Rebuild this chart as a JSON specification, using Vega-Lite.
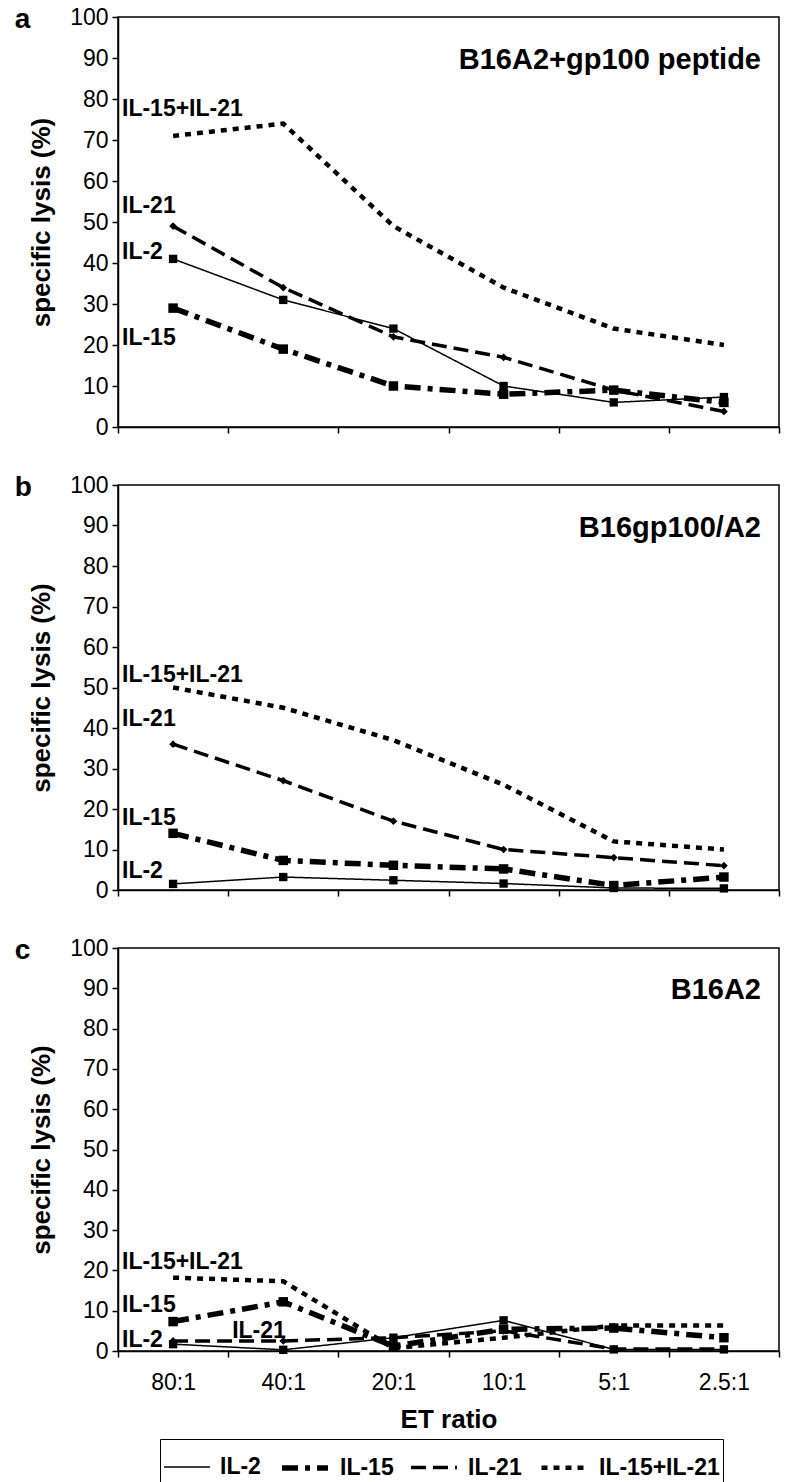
{
  "$schema": "https://vega.github.io/schema/vega-lite/v6.json",
  "autosize": {"type": "pad"},
  "padding": {"left": 13, "top": 5, "right": 5, "bottom": 4},
  "background": "white",
  "config": {
    "font": "Liberation Sans",
    "view": {"stroke": "black", "strokeWidth": 1.5},
    "axis": {"domainColor": "black", "domainWidth": 1.5, "tickColor": "black", "tickWidth": 1.5, "tickSize": 6, "labelColor": "black", "titleColor": "black", "grid": false, "labelFont": "Liberation Sans", "titleFont": "Liberation Sans"}
  },
  "datasets": {
    "series": [
      {"panel": "a", "ratio": "80:1", "series": "IL-2", "lysis": 41},
      {"panel": "a", "ratio": "40:1", "series": "IL-2", "lysis": 31},
      {"panel": "a", "ratio": "20:1", "series": "IL-2", "lysis": 24},
      {"panel": "a", "ratio": "10:1", "series": "IL-2", "lysis": 10},
      {"panel": "a", "ratio": "5:1", "series": "IL-2", "lysis": 6},
      {"panel": "a", "ratio": "2.5:1", "series": "IL-2", "lysis": 7.3},
      {"panel": "a", "ratio": "80:1", "series": "IL-15", "lysis": 29},
      {"panel": "a", "ratio": "40:1", "series": "IL-15", "lysis": 19},
      {"panel": "a", "ratio": "20:1", "series": "IL-15", "lysis": 10},
      {"panel": "a", "ratio": "10:1", "series": "IL-15", "lysis": 8},
      {"panel": "a", "ratio": "5:1", "series": "IL-15", "lysis": 9},
      {"panel": "a", "ratio": "2.5:1", "series": "IL-15", "lysis": 6},
      {"panel": "a", "ratio": "80:1", "series": "IL-21", "lysis": 49},
      {"panel": "a", "ratio": "40:1", "series": "IL-21", "lysis": 34},
      {"panel": "a", "ratio": "20:1", "series": "IL-21", "lysis": 22},
      {"panel": "a", "ratio": "10:1", "series": "IL-21", "lysis": 17},
      {"panel": "a", "ratio": "5:1", "series": "IL-21", "lysis": 9},
      {"panel": "a", "ratio": "2.5:1", "series": "IL-21", "lysis": 3.8},
      {"panel": "a", "ratio": "80:1", "series": "IL-15+IL-21", "lysis": 71},
      {"panel": "a", "ratio": "40:1", "series": "IL-15+IL-21", "lysis": 74},
      {"panel": "a", "ratio": "20:1", "series": "IL-15+IL-21", "lysis": 49},
      {"panel": "a", "ratio": "10:1", "series": "IL-15+IL-21", "lysis": 34},
      {"panel": "a", "ratio": "5:1", "series": "IL-15+IL-21", "lysis": 24},
      {"panel": "a", "ratio": "2.5:1", "series": "IL-15+IL-21", "lysis": 20},
      {"panel": "b", "ratio": "80:1", "series": "IL-2", "lysis": 1.5},
      {"panel": "b", "ratio": "40:1", "series": "IL-2", "lysis": 3.2},
      {"panel": "b", "ratio": "20:1", "series": "IL-2", "lysis": 2.4},
      {"panel": "b", "ratio": "10:1", "series": "IL-2", "lysis": 1.6},
      {"panel": "b", "ratio": "5:1", "series": "IL-2", "lysis": 0.5},
      {"panel": "b", "ratio": "2.5:1", "series": "IL-2", "lysis": 0.4},
      {"panel": "b", "ratio": "80:1", "series": "IL-15", "lysis": 14},
      {"panel": "b", "ratio": "40:1", "series": "IL-15", "lysis": 7.3},
      {"panel": "b", "ratio": "20:1", "series": "IL-15", "lysis": 6.1},
      {"panel": "b", "ratio": "10:1", "series": "IL-15", "lysis": 5.2},
      {"panel": "b", "ratio": "5:1", "series": "IL-15", "lysis": 1.1},
      {"panel": "b", "ratio": "2.5:1", "series": "IL-15", "lysis": 3.2},
      {"panel": "b", "ratio": "80:1", "series": "IL-21", "lysis": 36},
      {"panel": "b", "ratio": "40:1", "series": "IL-21", "lysis": 27},
      {"panel": "b", "ratio": "20:1", "series": "IL-21", "lysis": 17},
      {"panel": "b", "ratio": "10:1", "series": "IL-21", "lysis": 10},
      {"panel": "b", "ratio": "5:1", "series": "IL-21", "lysis": 8},
      {"panel": "b", "ratio": "2.5:1", "series": "IL-21", "lysis": 6},
      {"panel": "b", "ratio": "80:1", "series": "IL-15+IL-21", "lysis": 50},
      {"panel": "b", "ratio": "40:1", "series": "IL-15+IL-21", "lysis": 45},
      {"panel": "b", "ratio": "20:1", "series": "IL-15+IL-21", "lysis": 37},
      {"panel": "b", "ratio": "10:1", "series": "IL-15+IL-21", "lysis": 26},
      {"panel": "b", "ratio": "5:1", "series": "IL-15+IL-21", "lysis": 12},
      {"panel": "b", "ratio": "2.5:1", "series": "IL-15+IL-21", "lysis": 10},
      {"panel": "c", "ratio": "80:1", "series": "IL-2", "lysis": 1.7},
      {"panel": "c", "ratio": "40:1", "series": "IL-2", "lysis": 0.3},
      {"panel": "c", "ratio": "20:1", "series": "IL-2", "lysis": 3.3},
      {"panel": "c", "ratio": "10:1", "series": "IL-2", "lysis": 7.6},
      {"panel": "c", "ratio": "5:1", "series": "IL-2", "lysis": 0.4},
      {"panel": "c", "ratio": "2.5:1", "series": "IL-2", "lysis": 0.4},
      {"panel": "c", "ratio": "80:1", "series": "IL-15", "lysis": 7.3},
      {"panel": "c", "ratio": "40:1", "series": "IL-15", "lysis": 12.2},
      {"panel": "c", "ratio": "20:1", "series": "IL-15", "lysis": 1.2},
      {"panel": "c", "ratio": "10:1", "series": "IL-15", "lysis": 5.4},
      {"panel": "c", "ratio": "5:1", "series": "IL-15", "lysis": 5.7},
      {"panel": "c", "ratio": "2.5:1", "series": "IL-15", "lysis": 3.3},
      {"panel": "c", "ratio": "80:1", "series": "IL-21", "lysis": 2.5},
      {"panel": "c", "ratio": "40:1", "series": "IL-21", "lysis": 2.5},
      {"panel": "c", "ratio": "20:1", "series": "IL-21", "lysis": 3.3},
      {"panel": "c", "ratio": "10:1", "series": "IL-21", "lysis": 5},
      {"panel": "c", "ratio": "5:1", "series": "IL-21", "lysis": 0.5},
      {"panel": "c", "ratio": "2.5:1", "series": "IL-21", "lysis": 0.5},
      {"panel": "c", "ratio": "80:1", "series": "IL-15+IL-21", "lysis": 18.2},
      {"panel": "c", "ratio": "40:1", "series": "IL-15+IL-21", "lysis": 17.3},
      {"panel": "c", "ratio": "20:1", "series": "IL-15+IL-21", "lysis": 0.7},
      {"panel": "c", "ratio": "10:1", "series": "IL-15+IL-21", "lysis": 3.3},
      {"panel": "c", "ratio": "5:1", "series": "IL-15+IL-21", "lysis": 6.3},
      {"panel": "c", "ratio": "2.5:1", "series": "IL-15+IL-21", "lysis": 6.3}
    ],
    "labels": [
      {"panel": "a", "label": "IL-15+IL-21", "ratio": "80:1", "lysis": 77.6},
      {"panel": "a", "label": "IL-21", "ratio": "80:1", "lysis": 54},
      {"panel": "a", "label": "IL-2", "ratio": "80:1", "lysis": 42.7},
      {"panel": "a", "label": "IL-15", "ratio": "80:1", "lysis": 21.7},
      {"panel": "b", "label": "IL-15+IL-21", "ratio": "80:1", "lysis": 53},
      {"panel": "b", "label": "IL-21", "ratio": "80:1", "lysis": 42.3},
      {"panel": "b", "label": "IL-15", "ratio": "80:1", "lysis": 17.8},
      {"panel": "b", "label": "IL-2", "ratio": "80:1", "lysis": 4.7},
      {"panel": "c", "label": "IL-15+IL-21", "ratio": "80:1", "lysis": 22},
      {"panel": "c", "label": "IL-15", "ratio": "80:1", "lysis": 11.3},
      {"panel": "c", "label": "IL-2", "ratio": "80:1", "lysis": 2.7},
      {"panel": "c", "label": "IL-21", "ratio": "40:1", "lysis": 5}
    ],
    "titles": [
      {"panel": "a", "label": "B16A2+gp100 peptide", "ratio": "2.5:1", "lysis": 89.5},
      {"panel": "b", "label": "B16gp100/A2", "ratio": "2.5:1", "lysis": 89.5},
      {"panel": "c", "label": "B16A2", "ratio": "2.5:1", "lysis": 89.5}
    ]
  },
  "spacing": 33,
  "vconcat": [
    {
      "width": 661, "height": 410,
      "title": {"text": "a", "anchor": "start", "frame": "bounds", "fontSize": 28, "fontWeight": "bold", "offset": -28, "dx": -14, "color": "black"},
      "layer": [
        {
          "data": {"name": "series"},
          "transform": [{"filter": "datum.panel == 'a'"}],
          "mark": {"type": "line", "color": "black"},
          "encoding": {
            "x": {"field": "ratio", "type": "ordinal", "bandPosition": 0.5, "scale": {"type": "band", "domain": ["80:1", "40:1", "20:1", "10:1", "5:1", "2.5:1"], "paddingInner": 0, "paddingOuter": 0}, "axis": {"labels": false, "title": null, "tickBand": "extent"}},
            "y": {"field": "lysis", "type": "quantitative", "scale": {"domain": [0, 100]}, "axis": {"values": [0, 10, 20, 30, 40, 50, 60, 70, 80, 90, 100], "labelFontSize": 23, "labelPadding": 4, "title": "specific lysis (%)", "titleFontSize": 26, "titleFontWeight": "bold", "titlePadding": 15}},
            "strokeDash": {"field": "series", "type": "nominal", "scale": {"domain": ["IL-2", "IL-15", "IL-21", "IL-15+IL-21"], "range": [[1, 0], [16, 7, 5, 7], [15, 7], [6, 6]]}, "legend": {"orient": "none", "legendX": 42, "legendY": 1422, "direction": "horizontal", "title": null, "symbolType": "stroke", "symbolSize": 2116, "symbolStrokeColor": "black", "labelFontSize": 23, "labelFontWeight": "bold", "strokeColor": "black", "padding": 3, "columnPadding": 10, "labelOffset": 9}},
            "strokeWidth": {"field": "series", "type": "nominal", "scale": {"type": "ordinal", "domain": ["IL-2", "IL-15", "IL-21", "IL-15+IL-21"], "range": [1.5, 5.5, 3.5, 4.5]}}
          }
        },
        {
          "data": {"name": "series"},
          "transform": [{"filter": "datum.panel == 'a' && datum.series != 'IL-15+IL-21'"}],
          "mark": {"type": "point", "filled": true, "color": "black", "opacity": 1},
          "encoding": {
            "x": {"field": "ratio", "type": "ordinal", "bandPosition": 0.5},
            "y": {"field": "lysis", "type": "quantitative"},
            "shape": {"field": "series", "type": "nominal", "scale": {"domain": ["IL-2", "IL-15", "IL-21"], "range": ["square", "square", "diamond"]}, "legend": null},
            "size": {"field": "series", "type": "nominal", "scale": {"type": "ordinal", "domain": ["IL-2", "IL-15", "IL-21"], "range": [70, 90, 60]}, "legend": null}
          }
        },
        {
          "data": {"name": "labels"},
          "transform": [{"filter": "datum.panel == 'a'"}],
          "mark": {"type": "text", "align": "left", "baseline": "middle", "fontSize": 23, "fontWeight": "bold", "dx": 4, "color": "black"},
          "encoding": {
            "x": {"field": "ratio", "type": "ordinal", "bandPosition": 0},
            "y": {"field": "lysis", "type": "quantitative"},
            "text": {"field": "label"}
          }
        },
        {
          "data": {"name": "titles"},
          "transform": [{"filter": "datum.panel == 'a'"}],
          "mark": {"type": "text", "align": "right", "baseline": "middle", "fontSize": 29, "fontWeight": "bold", "dx": -18, "color": "black"},
          "encoding": {
            "x": {"field": "ratio", "type": "ordinal", "bandPosition": 1},
            "y": {"field": "lysis", "type": "quantitative"},
            "text": {"field": "label"}
          }
        }
      ]
    },
    {
      "width": 661, "height": 405,
      "title": {"text": "b", "anchor": "start", "frame": "bounds", "fontSize": 28, "fontWeight": "bold", "offset": -28, "dx": -14, "color": "black"},
      "layer": [
        {
          "data": {"name": "series"},
          "transform": [{"filter": "datum.panel == 'b'"}],
          "mark": {"type": "line", "color": "black"},
          "encoding": {
            "x": {"field": "ratio", "type": "ordinal", "bandPosition": 0.5, "scale": {"type": "band", "domain": ["80:1", "40:1", "20:1", "10:1", "5:1", "2.5:1"], "paddingInner": 0, "paddingOuter": 0}, "axis": {"labels": false, "title": null, "tickBand": "extent"}},
            "y": {"field": "lysis", "type": "quantitative", "scale": {"domain": [0, 100]}, "axis": {"values": [0, 10, 20, 30, 40, 50, 60, 70, 80, 90, 100], "labelFontSize": 23, "labelPadding": 4, "title": "specific lysis (%)", "titleFontSize": 26, "titleFontWeight": "bold", "titlePadding": 15}},
            "strokeDash": {"field": "series", "type": "nominal", "scale": {"domain": ["IL-2", "IL-15", "IL-21", "IL-15+IL-21"], "range": [[1, 0], [16, 7, 5, 7], [15, 7], [6, 6]]}},
            "strokeWidth": {"field": "series", "type": "nominal", "scale": {"type": "ordinal", "domain": ["IL-2", "IL-15", "IL-21", "IL-15+IL-21"], "range": [1.5, 5.5, 3.5, 4.5]}}
          }
        },
        {
          "data": {"name": "series"},
          "transform": [{"filter": "datum.panel == 'b' && datum.series != 'IL-15+IL-21'"}],
          "mark": {"type": "point", "filled": true, "color": "black", "opacity": 1},
          "encoding": {
            "x": {"field": "ratio", "type": "ordinal", "bandPosition": 0.5},
            "y": {"field": "lysis", "type": "quantitative"},
            "shape": {"field": "series", "type": "nominal", "scale": {"domain": ["IL-2", "IL-15", "IL-21"], "range": ["square", "circle", "diamond"]}, "legend": null},
            "size": {"field": "series", "type": "nominal", "scale": {"type": "ordinal", "domain": ["IL-2", "IL-15", "IL-21"], "range": [70, 100, 60]}, "legend": null}
          }
        },
        {
          "data": {"name": "labels"},
          "transform": [{"filter": "datum.panel == 'b'"}],
          "mark": {"type": "text", "align": "left", "baseline": "middle", "fontSize": 23, "fontWeight": "bold", "dx": 4, "color": "black"},
          "encoding": {
            "x": {"field": "ratio", "type": "ordinal", "bandPosition": 0},
            "y": {"field": "lysis", "type": "quantitative"},
            "text": {"field": "label"}
          }
        },
        {
          "data": {"name": "titles"},
          "transform": [{"filter": "datum.panel == 'b'"}],
          "mark": {"type": "text", "align": "right", "baseline": "middle", "fontSize": 29, "fontWeight": "bold", "dx": -18, "color": "black"},
          "encoding": {
            "x": {"field": "ratio", "type": "ordinal", "bandPosition": 1},
            "y": {"field": "lysis", "type": "quantitative"},
            "text": {"field": "label"}
          }
        }
      ]
    },
    {
      "width": 661, "height": 403,
      "title": {"text": "c", "anchor": "start", "frame": "bounds", "fontSize": 28, "fontWeight": "bold", "offset": -28, "dx": -14, "color": "black"},
      "layer": [
        {
          "data": {"name": "series"},
          "transform": [{"filter": "datum.panel == 'c'"}],
          "mark": {"type": "line", "color": "black"},
          "encoding": {
            "x": {"field": "ratio", "type": "ordinal", "bandPosition": 0.5, "scale": {"type": "band", "domain": ["80:1", "40:1", "20:1", "10:1", "5:1", "2.5:1"], "paddingInner": 0, "paddingOuter": 0}, "axis": {"labelFontSize": 23, "labelAngle": 0, "labelPadding": 14, "title": "ET ratio", "titleFontSize": 26, "titleFontWeight": "bold", "titlePadding": 12, "tickBand": "extent"}},
            "y": {"field": "lysis", "type": "quantitative", "scale": {"domain": [0, 100]}, "axis": {"values": [0, 10, 20, 30, 40, 50, 60, 70, 80, 90, 100], "labelFontSize": 23, "labelPadding": 4, "title": "specific lysis (%)", "titleFontSize": 26, "titleFontWeight": "bold", "titlePadding": 15}},
            "strokeDash": {"field": "series", "type": "nominal", "scale": {"domain": ["IL-2", "IL-15", "IL-21", "IL-15+IL-21"], "range": [[1, 0], [16, 7, 5, 7], [15, 7], [6, 6]]}},
            "strokeWidth": {"field": "series", "type": "nominal", "scale": {"type": "ordinal", "domain": ["IL-2", "IL-15", "IL-21", "IL-15+IL-21"], "range": [1.5, 5.5, 3.5, 4.5]}}
          }
        },
        {
          "data": {"name": "series"},
          "transform": [{"filter": "datum.panel == 'c' && datum.series != 'IL-15+IL-21'"}],
          "mark": {"type": "point", "filled": true, "color": "black", "opacity": 1},
          "encoding": {
            "x": {"field": "ratio", "type": "ordinal", "bandPosition": 0.5},
            "y": {"field": "lysis", "type": "quantitative"},
            "shape": {"field": "series", "type": "nominal", "scale": {"domain": ["IL-2", "IL-15", "IL-21"], "range": ["square", "square", "diamond"]}, "legend": null},
            "size": {"field": "series", "type": "nominal", "scale": {"type": "ordinal", "domain": ["IL-2", "IL-15", "IL-21"], "range": [70, 90, 60]}, "legend": null}
          }
        },
        {
          "data": {"name": "labels"},
          "transform": [{"filter": "datum.panel == 'c'"}],
          "mark": {"type": "text", "align": "left", "baseline": "middle", "fontSize": 23, "fontWeight": "bold", "dx": 4, "color": "black"},
          "encoding": {
            "x": {"field": "ratio", "type": "ordinal", "bandPosition": 0},
            "y": {"field": "lysis", "type": "quantitative"},
            "text": {"field": "label"}
          }
        },
        {
          "data": {"name": "titles"},
          "transform": [{"filter": "datum.panel == 'c'"}],
          "mark": {"type": "text", "align": "right", "baseline": "middle", "fontSize": 29, "fontWeight": "bold", "dx": -18, "color": "black"},
          "encoding": {
            "x": {"field": "ratio", "type": "ordinal", "bandPosition": 1},
            "y": {"field": "lysis", "type": "quantitative"},
            "text": {"field": "label"}
          }
        }
      ]
    }
  ]
}
